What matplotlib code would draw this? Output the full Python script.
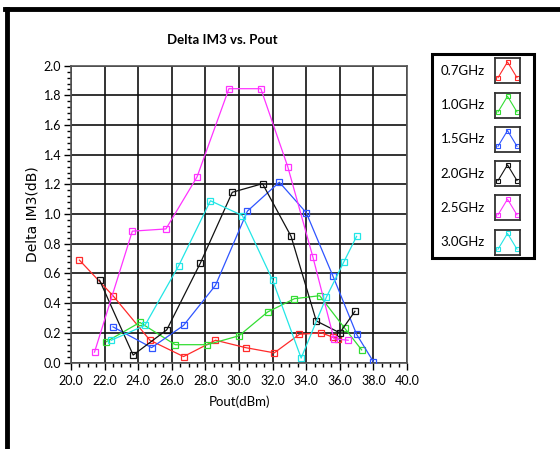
import matplotlib
matplotlib.use("Agg")
import matplotlib.pyplot as plt
from matplotlib.ticker import MultipleLocator, FormatStrFormatter
from matplotlib.lines import Line2D
from matplotlib.patches import Rectangle

# data
labels = ["0.7GHz", "1.0GHz", "1.5GHz", "2.0GHz", "2.5GHz", "3.0GHz"]
colors = ["#ff2a2a", "#33dd33", "#2f55ff", "#111111", "#ff33ff", "#22e6e6"]

x_07 = [20.5, 22.5, 24.7, 26.7, 28.6, 30.4, 32.1, 33.6, 34.9, 35.6, 35.9]
y_07 = [0.69, 0.45, 0.15, 0.04, 0.15, 0.10, 0.065, 0.19, 0.20, 0.17, 0.16]

x_10 = [22.1, 24.1, 26.2, 28.1, 30.0, 31.7, 33.3, 34.8, 36.3, 37.3]
y_10 = [0.14, 0.27, 0.12, 0.12, 0.18, 0.34, 0.43, 0.45, 0.23, 0.085]

x_15 = [22.5, 24.8, 26.7, 28.6, 30.5, 32.4, 34.0, 35.6, 37.0, 38.0]
y_15 = [0.24, 0.10, 0.25, 0.52, 1.02, 1.215, 1.01, 0.58, 0.19, 0.005]

x_20 = [21.7, 23.7, 25.7, 27.7, 29.6, 31.4, 33.1, 34.6, 36.0, 36.9]
y_20 = [0.555, 0.05, 0.22, 0.67, 1.147, 1.205, 0.85, 0.28, 0.20, 0.345]

x_25 = [21.4, 23.65, 25.65, 27.5, 29.4, 31.3, 32.9, 34.4, 35.65, 36.5]
y_25 = [0.07, 0.885, 0.90, 1.25, 1.845, 1.845, 1.32, 0.71, 0.16, 0.15]

x_30 = [22.4, 24.4, 26.4, 28.3, 30.2, 32.0, 33.7, 35.2, 36.25, 37.0]
y_30 = [0.15, 0.25, 0.65, 1.09, 0.99, 0.555, 0.03, 0.44, 0.68, 0.85]

xs = [x_07, x_10, x_15, x_20, x_25, x_30]
ys = [y_07, y_10, y_15, y_20, y_25, y_30]

tick_font = "Lato"

fig = plt.figure(figsize=(5.6, 4.49), dpi=100)
ax = fig.add_axes([71 / 560, 1 - 362.5 / 449, 336 / 560, 296.8 / 449])

for x, y, c in zip(xs, ys, colors):
    ax.plot(x, y, color=c, lw=0.9, marker="s", ms=4.5, mfc="none", mec=c, mew=0.9, zorder=3)

ax.set_xlim(20, 40)
ax.set_ylim(0, 2.0)
ax.xaxis.set_major_locator(MultipleLocator(2))
ax.xaxis.set_minor_locator(MultipleLocator(0.5))
ax.yaxis.set_major_locator(MultipleLocator(0.2))
ax.yaxis.set_minor_locator(MultipleLocator(0.04))
ax.xaxis.set_major_formatter(FormatStrFormatter("%.1f"))
ax.yaxis.set_major_formatter(FormatStrFormatter("%.1f"))
ax.grid(True, which="major", color="#111111", lw=1.2)
ax.set_axisbelow(True)
ax.tick_params(which="major", direction="out", length=5, width=1.0, pad=2, labelsize=9, colors="black")
ax.tick_params(which="minor", direction="out", length=3, width=1.0)
ax.tick_params(axis="x", which="both", pad=4)
for lab in ax.get_xticklabels() + ax.get_yticklabels():
    lab.set_fontfamily(tick_font)
for s in ax.spines.values():
    s.set_color("#555555")
    s.set_linewidth(1.2)

ax.set_xlabel("Pout(dBm)", fontfamily=tick_font, fontsize=9.5, labelpad=6)
ax.set_ylabel("Delta IM3(dB)", fontfamily="DejaVu Sans", fontsize=10, labelpad=3)

fig.text(222 / 560, 1 - 40 / 449, "Delta IM3 vs. Pout", ha="center", va="center",
         fontfamily=tick_font, fontweight="bold", fontsize=9.5)

# outer frame (top and left edges visible)
fig.add_artist(Line2D([7 / 560, 7 / 560], [0, 1 - 9 / 449], transform=fig.transFigure, color="black", lw=3.5))
fig.add_artist(Line2D([5 / 560, 1], [1 - 9 / 449, 1 - 9 / 449], transform=fig.transFigure, color="black", lw=3.5))

# legend box
W, H = 560, 449
fig.add_artist(Rectangle((432 / W, 1 - 258 / H), 102 / W, 204 / H, transform=fig.transFigure,
                         fill=False, ec="black", lw=2.2))
for i, (lab, c) in enumerate(zip(labels, colors)):
    yc = 70.7 + i * 34.3
    fig.text(485 / W, 1 - yc / H, lab, ha="right", va="center", fontfamily=tick_font, fontsize=9.5)
    iax = fig.add_axes([495 / W, 1 - (yc + 12.5) / H, 25 / W, 25 / H])
    iax.set_xlim(0, 1)
    iax.set_ylim(0, 1)
    iax.set_xticks([])
    iax.set_yticks([])
    for s in iax.spines.values():
        s.set_color("#333333")
        s.set_linewidth(1.3)
    iax.plot([0.12, 0.5, 0.88], [0.22, 0.85, 0.22], color=c, lw=0.8)
    iax.plot([0.12, 0.5, 0.88], [0.22, 0.85, 0.22], ls="none", marker="s", ms=3, mfc="none", mec=c, mew=0.8)

fig.savefig("out.png", dpi=100)
